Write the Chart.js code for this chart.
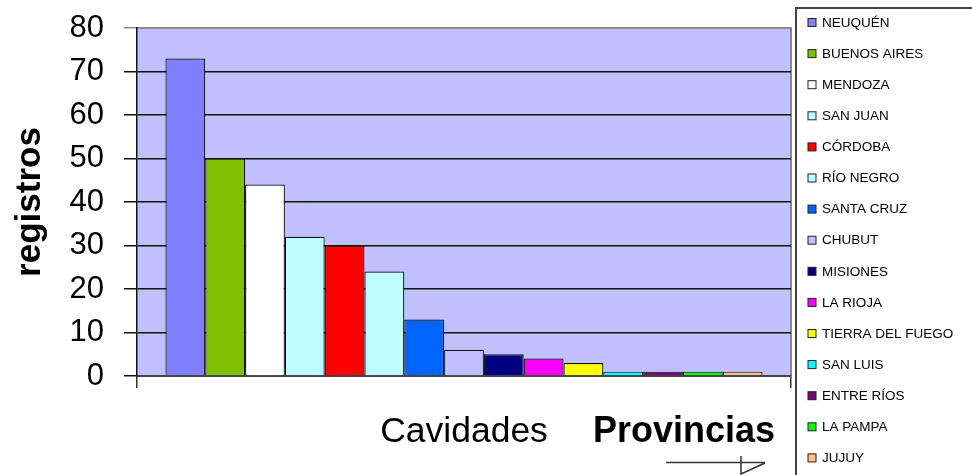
<!DOCTYPE html>
<html>
<head>
<meta charset="utf-8">
<style>
  html, body { margin: 0; padding: 0; background: #ffffff; }
  #wrap { position: relative; width: 972px; height: 475px; }
</style>
<script src="https://cdn.jsdelivr.net/npm/chart.js@4/dist/chart.umd.min.js"></script>
</head>
<body>
<div id="wrap"><canvas id="c" width="972" height="475"></canvas></div>
<script>
const provinces = ['NEUQUÉN','BUENOS AIRES','MENDOZA','SAN JUAN','CÓRDOBA','RÍO NEGRO','SANTA CRUZ','CHUBUT','MISIONES','LA RIOJA','TIERRA DEL FUEGO','SAN LUIS','ENTRE RÍOS','LA PAMPA','JUJUY'];
const registros = [73, 50, 44, 32, 30, 24, 13, 6, 5, 4, 3, 1, 1, 1, 1];
const barColors = ['#8080FF','#80C000','#FFFFFF','#C0FFFF','#FF0000','#C0FFFF','#0066FF','#C0C0FF','#000080','#FF00FF','#FFFF00','#00FFFF','#800080','#00FF00','#FFC080'];
const categories = [''];
const yTicks = [0, 10, 20, 30, 40, 50, 60, 70, 80];
const yTitle = 'registros';
const xTitle = 'Cavidades';
const sideLabel = 'Provincias';

const FONT = '"Liberation Sans", Arial, sans-serif';

const datasets = provinces.map((p, i) => ({
  label: p,
  data: [registros[i]],
  backgroundColor: barColors[i],
  borderColor: '#111111',
  borderWidth: 1.2,
  categoryPercentage: 0.913,
  barPercentage: 1.0
}));

const decor = {
  id: 'decor',
  beforeDraw(chart) {
    const {ctx, chartArea: a} = chart;
    ctx.save();
    ctx.fillStyle = '#C0C0FF';
    ctx.fillRect(a.left, a.top, a.right - a.left, a.bottom - a.top);
    ctx.strokeStyle = '#8a8a8a';
    ctx.lineWidth = 2;
    ctx.beginPath();
    ctx.moveTo(a.left, a.top);
    ctx.lineTo(a.right, a.top);
    ctx.lineTo(a.right, a.bottom);
    ctx.stroke();
    ctx.restore();
  },
  afterDraw(chart) {
    const {ctx} = chart;
    ctx.save();
    // Legend box
    ctx.fillStyle = '#ffffff';
    ctx.fillRect(796, 8, 180, 470);
    ctx.strokeStyle = '#444444';
    ctx.lineWidth = 2;
    ctx.strokeRect(796, 8, 200, 500);
    ctx.font = '13.5px ' + FONT;
    ctx.textBaseline = 'middle';
    ctx.textAlign = 'left';
    chart.data.datasets.forEach((ds, i) => {
      const y = 22.5 + i * 31.1;
      ctx.fillStyle = ds.backgroundColor;
      ctx.fillRect(808, y - 4, 8, 8);
      ctx.strokeStyle = '#222';
      ctx.lineWidth = 1;
      ctx.strokeRect(808, y - 4, 8, 8);
      ctx.fillStyle = '#000';
      ctx.fillText(ds.label, 822, y + 0.5);
    });
    // "Provincias" label with arrow
    ctx.font = 'bold 36px ' + FONT;
    ctx.fillStyle = '#000';
    ctx.textBaseline = 'middle';
    ctx.fillText(sideLabel, 593, 432);
    ctx.strokeStyle = '#333';
    ctx.lineWidth = 1.5;
    ctx.beginPath();
    ctx.moveTo(666, 462.5);
    ctx.lineTo(765, 462.5);
    ctx.moveTo(741, 456);
    ctx.lineTo(741, 474);
    ctx.lineTo(765, 463);
    ctx.stroke();
    ctx.restore();
  }
};

new Chart(document.getElementById('c'), {
  type: 'bar',
  data: { labels: categories, datasets },
  plugins: [decor],
  options: {
    responsive: false,
    animation: false,
    events: [],
    layout: { padding: { top: 28, right: 181, left: 0, bottom: 0 } },
    plugins: { legend: { display: false }, tooltip: { enabled: false }, title: { display: false } },
    scales: {
      x: {
        afterFit(scale) { scale.height = 99; scale.paddingLeft = 0; scale.paddingRight = 0; },
        ticks: { display: false },
        grid: { offset: true, drawOnChartArea: false, color: '#333', tickLength: 12, lineWidth: 1.5 },
        border: { color: '#444', width: 2 },
        title: { display: true, text: xTitle, color: '#000', font: { family: FONT, size: 35.5 }, padding: { top: 0, bottom: 21 } }
      },
      y: {
        min: 0, max: 80,
        afterFit(scale) { scale.width = 137; scale.paddingTop = 0; scale.paddingBottom = 0; },
        afterBuildTicks(scale) { scale.ticks = yTicks.map(v => ({ value: v })); },
        ticks: { color: '#000', font: { family: FONT, size: 31 }, padding: 20 },
        grid: {
          color: (c) => (c.tick && c.tick.value === 80 ? '#8a8a8a' : '#111'),
          lineWidth: 1.5, tickLength: 13
        },
        border: { color: '#111', width: 1.5 },
        title: { display: true, text: yTitle, color: '#000', font: { family: FONT, size: 35, weight: 'bold' }, padding: { top: 9, bottom: 0 } }
      }
    }
  }
});
</script>
</body>
</html>
